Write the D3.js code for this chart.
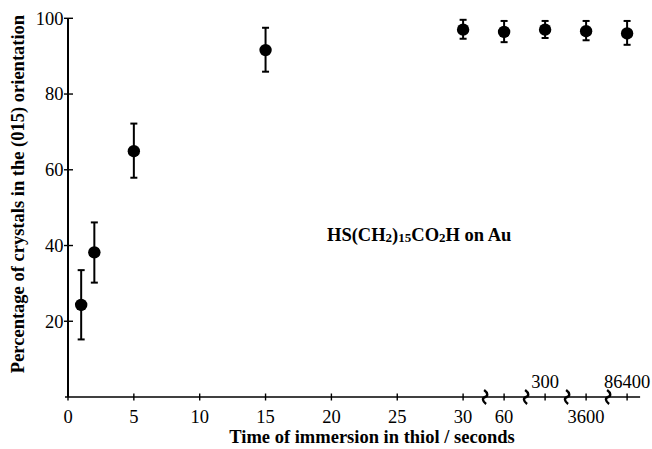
<!DOCTYPE html>
<html>
<head>
<meta charset="utf-8">
<script src="https://cdn.jsdelivr.net/npm/d3@7"></script>
<style>
  html, body { margin: 0; padding: 0; background: #fff; }
  svg { display: block; }
  text { font-family: "Liberation Serif", "Times New Roman", serif; fill: #000; }
</style>
</head>
<body>
<svg id="chart" width="652" height="449"></svg>
<script>
// Immersion time (s) and percentage of crystals in the (015) orientation
const times    = [1, 2, 5, 15, 30, 60, 300, 3600, 86400];
const percent  = [24.3, 38.2, 64.9, 91.6, 97.0, 96.4, 97.0, 96.6, 96.0];
const errLow   = [15.2, 30.2, 57.9, 85.9, 94.6, 93.7, 94.8, 94.2, 93.0];
const errHigh  = [33.5, 46.1, 72.2, 97.5, 99.6, 99.3, 99.3, 99.3, 99.3];

// Axis ticks; the long-time part of the axis is broken between each tick
const xTicks       = [0, 5, 10, 15, 20, 25, 30, 60, 300, 3600, 86400];
const xLabelsAbove = [300, 86400];
const breakFrom    = [30, 60, 300, 3600];
const breakTo      = [60, 300, 3600, 86400];
const yTicks       = [20, 40, 60, 80, 100];

const svg = d3.select("#chart");

const plotLeft = 68, plotBottom = 397, plotTop = 18.3;
const unit = 13.17;   // px per second on the linear part
const step = 41;      // px between broken-axis ticks
const linEnd = plotLeft + 30 * unit;
const tickFont = 18.5, titleFont = 18.5;

// Polylinear scale: linear 0–30 s, then equal steps for 60, 300, 3600, 86400 s
const x = d3.scaleLinear()
  .domain([0, 30, 60, 300, 3600, 86400])
  .range([plotLeft, linEnd, linEnd + step, linEnd + 2 * step, linEnd + 3 * step, linEnd + 4 * step]);

const y = d3.scaleLinear().domain([0, 100]).range([plotBottom, plotTop]);

const axisRight = x(86400) + 13;

// X axis line
svg.append("line")
  .attr("x1", plotLeft - 3).attr("x2", axisRight)
  .attr("y1", plotBottom).attr("y2", plotBottom)
  .attr("stroke", "#000").attr("stroke-width", 1.6);

// Y axis line
svg.append("line")
  .attr("x1", plotLeft).attr("x2", plotLeft)
  .attr("y1", plotTop).attr("y2", plotBottom)
  .attr("stroke", "#000").attr("stroke-width", 2);

// X ticks crossing the axis
svg.selectAll(".xtick").data(xTicks).enter().append("line")
  .attr("x1", d => x(d)).attr("x2", d => x(d))
  .attr("y1", plotBottom - 3.5).attr("y2", plotBottom + 3.5)
  .attr("stroke", "#000").attr("stroke-width", 1.4);

svg.selectAll(".xlab").data(xTicks).enter().append("text")
  .attr("x", d => x(d))
  .attr("y", d => xLabelsAbove.includes(d) ? plotBottom - 9 : plotBottom + 26)
  .attr("text-anchor", "middle")
  .attr("font-size", tickFont)
  .text(d => d);

// Axis break marks (vertical squiggles)
svg.selectAll(".brk").data(breakFrom).enter().append("path")
  .attr("transform", (d, i) => `translate(${(x(d) + x(breakTo[i])) / 2 + 1.5},${plotBottom})`)
  .attr("d", "M-1,-7 C3,-4 3,-1 0,0 C-3,1 -3,4 1,7")
  .attr("fill", "none").attr("stroke", "#000").attr("stroke-width", 2.4);

// Y ticks crossing the axis
svg.selectAll(".ytick").data(yTicks).enter().append("line")
  .attr("x1", plotLeft - 4).attr("x2", plotLeft + 5)
  .attr("y1", d => y(d)).attr("y2", d => y(d))
  .attr("stroke", "#000").attr("stroke-width", 1.4);

svg.selectAll(".ylab").data(yTicks).enter().append("text")
  .attr("x", plotLeft - 4.5)
  .attr("y", d => y(d) + 6.3)
  .attr("text-anchor", "end")
  .attr("font-size", tickFont)
  .text(d => d);

// Error bars and markers
const pts = times.map((t, i) => ({ t, v: percent[i], lo: errLow[i], hi: errHigh[i] }));
const g = svg.append("g");
g.selectAll(".eb").data(pts).enter().append("line")
  .attr("x1", d => x(d.t)).attr("x2", d => x(d.t))
  .attr("y1", d => y(d.lo)).attr("y2", d => y(d.hi))
  .attr("stroke", "#000").attr("stroke-width", 2);
g.selectAll(".capH").data(pts).enter().append("line")
  .attr("x1", d => x(d.t) - 3.5).attr("x2", d => x(d.t) + 3.5)
  .attr("y1", d => y(d.hi)).attr("y2", d => y(d.hi))
  .attr("stroke", "#000").attr("stroke-width", 2);
g.selectAll(".capL").data(pts).enter().append("line")
  .attr("x1", d => x(d.t) - 3.5).attr("x2", d => x(d.t) + 3.5)
  .attr("y1", d => y(d.lo)).attr("y2", d => y(d.lo))
  .attr("stroke", "#000").attr("stroke-width", 2);
g.selectAll("circle").data(pts).enter().append("circle")
  .attr("cx", d => x(d.t)).attr("cy", d => y(d.v))
  .attr("r", 6.2).attr("fill", "#000");

// Axis titles
svg.append("text")
  .attr("x", 372).attr("y", 443)
  .attr("text-anchor", "middle")
  .attr("font-size", titleFont).attr("font-weight", "bold")
  .text("Time of immersion in thiol / seconds");

svg.append("text")
  .attr("transform", "translate(24,194) rotate(-90)")
  .attr("text-anchor", "middle")
  .attr("font-size", titleFont).attr("font-weight", "bold")
  .text("Percentage of crystals in the (015) orientation");

// Sample label with subscripts
const lab = svg.append("text")
  .attr("x", 327).attr("y", 240.5)
  .attr("font-size", titleFont).attr("font-weight", "bold");
lab.append("tspan").text("HS(CH");
lab.append("tspan").attr("font-size", 13).attr("dy", 1.5).text("2");
lab.append("tspan").attr("dy", -1.5).text(")");
lab.append("tspan").attr("font-size", 13).attr("dy", 1.5).text("15");
lab.append("tspan").attr("dy", -1.5).text("CO");
lab.append("tspan").attr("font-size", 13).attr("dy", 1.5).text("2");
lab.append("tspan").attr("dy", -1.5).text("H on Au");
</script>
</body>
</html>
